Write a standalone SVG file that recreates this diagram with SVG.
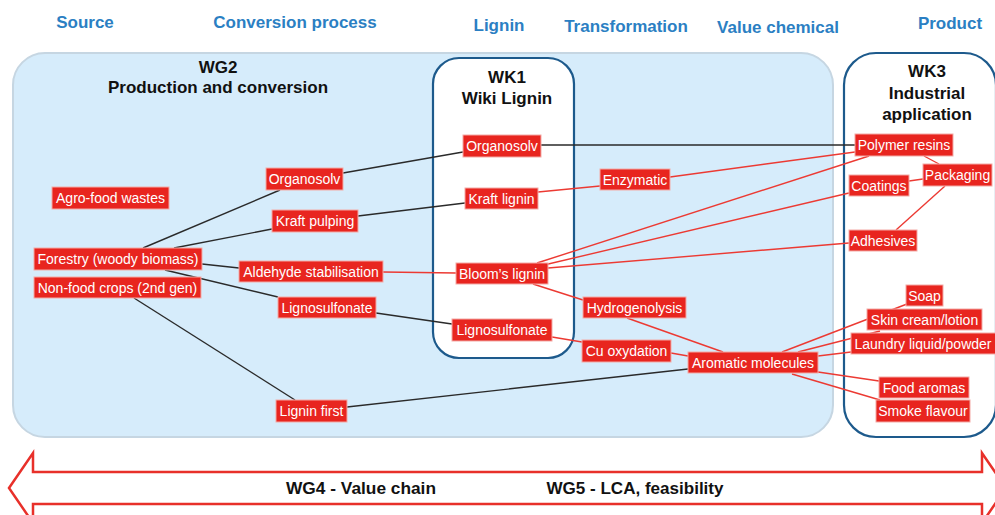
<svg xmlns="http://www.w3.org/2000/svg" width="995" height="515" viewBox="0 0 995 515">
<defs>
<style>
.hdr{font-family:"Liberation Sans",Arial,sans-serif;font-weight:bold;font-size:17px;fill:#2b7fc3;text-anchor:middle}
.ttl{font-family:"Liberation Sans",Arial,sans-serif;font-weight:bold;font-size:17px;fill:#111;text-anchor:middle}
.nd rect{fill:#e8251f;stroke:#f3aaa6;stroke-width:1}
.nd text{font-family:"Liberation Sans",Arial,sans-serif;font-size:14px;fill:#fff;text-anchor:middle}
.bk{stroke:#2a2a2a;stroke-width:1.4;fill:none}
.rd{stroke:#ec3a33;stroke-width:1.4;fill:none}
.wk{fill:#fff;stroke:#1d5a8c;stroke-width:2.2}
.bot{font-family:"Liberation Sans Narrow","Liberation Sans",Arial,sans-serif;font-weight:bold;font-size:16px;fill:#111;text-anchor:middle}
</style>
</defs>
<rect width="995" height="515" fill="#fff"/>

<g id="headers">
<text class="hdr" x="85" y="28">Source</text>
<text class="hdr" x="295" y="28">Conversion process</text>
<text class="hdr" x="499" y="31">Lignin</text>
<text class="hdr" x="626" y="32">Transformation</text>
<text class="hdr" x="778" y="33">Value chemical</text>
<text class="hdr" x="950" y="29">Product</text>
</g>

<g id="WG2">
<rect x="13" y="53" width="820" height="384" rx="32" fill="#d6ecfb" stroke="#c6d6e2" stroke-width="2"/>
<text class="ttl" x="218" y="73">WG2</text>
<text class="ttl" x="218" y="93">Production and conversion</text>
</g>

<g id="WK1">
<rect class="wk" x="433" y="58" width="141" height="300" rx="26"/>
<text class="ttl" x="507" y="83">WK1</text>
<text class="ttl" x="507" y="104">Wiki Lignin</text>
</g>

<g id="WK3">
<rect class="wk" x="844" y="53" width="152" height="384" rx="32"/>
<text class="ttl" x="927" y="77">WK3</text>
<text class="ttl" x="927" y="99">Industrial</text>
<text class="ttl" x="927" y="120">application</text>
</g>

<g id="connectors">
<line class="bk" x1="143" y1="248" x2="280" y2="190"/>
<line class="bk" x1="174" y1="248" x2="272" y2="229"/>
<line class="bk" x1="202" y1="264" x2="239" y2="268"/>
<line class="bk" x1="165" y1="270" x2="278" y2="297"/>
<line class="bk" x1="134" y1="298" x2="295" y2="400"/>
<line class="bk" x1="343" y1="173" x2="463" y2="152"/>
<line class="bk" x1="358" y1="216" x2="465" y2="203"/>
<line class="bk" x1="376" y1="313" x2="452" y2="324"/>
<line class="bk" x1="347" y1="407" x2="688" y2="369"/>
<line class="bk" x1="541" y1="145" x2="855" y2="145"/>

<line class="rd" x1="383" y1="272" x2="456" y2="273"/>
<line class="rd" x1="538" y1="192" x2="600" y2="186"/>
<line class="rd" x1="670" y1="177" x2="855" y2="152"/>
<line class="rd" x1="537" y1="263" x2="869" y2="156"/>
<line class="rd" x1="544" y1="265" x2="849" y2="193"/>
<line class="rd" x1="548" y1="268" x2="849" y2="243"/>
<line class="rd" x1="533" y1="284" x2="583" y2="300"/>
<line class="rd" x1="924" y1="156" x2="939" y2="164"/>
<line class="rd" x1="909" y1="181" x2="923" y2="179"/>
<line class="rd" x1="945" y1="186" x2="896" y2="230"/>
<line class="rd" x1="627" y1="318" x2="723" y2="352"/>
<line class="rd" x1="552" y1="337" x2="582" y2="342"/>
<line class="rd" x1="671" y1="353" x2="688" y2="356"/>
<line class="rd" x1="782" y1="352" x2="907" y2="304"/>
<line class="rd" x1="798" y1="352" x2="880" y2="331"/>
<line class="rd" x1="818" y1="356" x2="851" y2="352"/>
<line class="rd" x1="818" y1="372" x2="879" y2="381"/>
<line class="rd" x1="792" y1="374" x2="880" y2="400"/>
</g>

<g id="n-agro" class="nd"><rect x="52" y="187" width="117" height="22"/><text x="110.5" y="203">Agro-food wastes</text></g>
<g id="n-forestry" class="nd"><rect x="34" y="248" width="168" height="22"/><text x="118" y="264">Forestry (woody biomass)</text></g>
<g id="n-nonfood" class="nd"><rect x="34" y="277" width="167" height="21"/><text x="117.5" y="292.5">Non-food crops (2nd gen)</text></g>

<g id="n-organosolv1" class="nd"><rect x="266" y="168" width="77" height="22"/><text x="304.5" y="184">Organosolv</text></g>
<g id="n-kraftpulping" class="nd"><rect x="272" y="210" width="86" height="22"/><text x="315" y="226">Kraft pulping</text></g>
<g id="n-aldehyde" class="nd"><rect x="239" y="261" width="144" height="21"/><text x="311" y="276.5">Aldehyde stabilisation</text></g>
<g id="n-lignosulfonate1" class="nd"><rect x="278" y="297" width="98" height="21"/><text x="327" y="312.5">Lignosulfonate</text></g>
<g id="n-ligninfirst" class="nd"><rect x="276" y="400" width="71" height="22"/><text x="311.5" y="416">Lignin first</text></g>

<g id="n-organosolv2" class="nd"><rect x="463" y="135" width="78" height="22"/><text x="502" y="151">Organosolv</text></g>
<g id="n-kraftlignin" class="nd"><rect x="465" y="188" width="73" height="21"/><text x="501.5" y="203.5">Kraft lignin</text></g>
<g id="n-bloom" class="nd"><rect x="456" y="263" width="92" height="21"/><text x="502" y="278.5">Bloom’s lignin</text></g>
<g id="n-lignosulfonate2" class="nd"><rect x="452" y="319" width="100" height="22"/><text x="502" y="335">Lignosulfonate</text></g>

<g id="n-enzymatic" class="nd"><rect x="600" y="169" width="70" height="21"/><text x="635" y="184.5">Enzymatic</text></g>
<g id="n-hydrogenolysis" class="nd"><rect x="583" y="297" width="103" height="21"/><text x="634.5" y="312.5">Hydrogenolysis</text></g>
<g id="n-cuoxydation" class="nd"><rect x="582" y="340" width="89" height="22"/><text x="626.5" y="356">Cu oxydation</text></g>
<g id="n-aromatic" class="nd"><rect x="688" y="352" width="130" height="21"/><text x="753" y="367.5">Aromatic molecules</text></g>

<g id="n-polymer" class="nd"><rect x="855" y="134" width="98" height="22"/><text x="904" y="150">Polymer resins</text></g>
<g id="n-packaging" class="nd"><rect x="923" y="164" width="69" height="22"/><text x="957.5" y="180">Packaging</text></g>
<g id="n-coatings" class="nd"><rect x="849" y="175" width="60" height="21"/><text x="879" y="190.5">Coatings</text></g>
<g id="n-adhesives" class="nd"><rect x="849" y="230" width="68" height="21"/><text x="883" y="245.5">Adhesives</text></g>
<g id="n-soap" class="nd"><rect x="906" y="285" width="37" height="21"/><text x="924.5" y="300.5">Soap</text></g>
<g id="n-skin" class="nd"><rect x="867" y="309" width="115" height="21"/><text x="924.5" y="324.5">Skin cream/lotion</text></g>
<g id="n-laundry" class="nd"><rect x="851" y="333" width="146" height="21"/><text x="923" y="348.5">Laundry liquid/powder</text></g>
<g id="n-food" class="nd"><rect x="879" y="377" width="90" height="21"/><text x="924" y="392.5">Food aromas</text></g>
<g id="n-smoke" class="nd"><rect x="876" y="400" width="94" height="22"/><text x="923" y="416">Smoke flavour</text></g>

<g id="valuechain-arrow">
<polygon points="9,488 33,453 33,472 982,472 982,453 1006,488 982,523 982,504 33,504 33,523" fill="#fff" stroke="#e8302a" stroke-width="2.5" stroke-linejoin="miter"/>
<text class="bot" x="361" y="494" textLength="150" lengthAdjust="spacingAndGlyphs">WG4 - Value chain</text>
<text class="bot" x="635" y="494" textLength="177" lengthAdjust="spacingAndGlyphs">WG5 - LCA, feasibility</text>
</g>
</svg>
